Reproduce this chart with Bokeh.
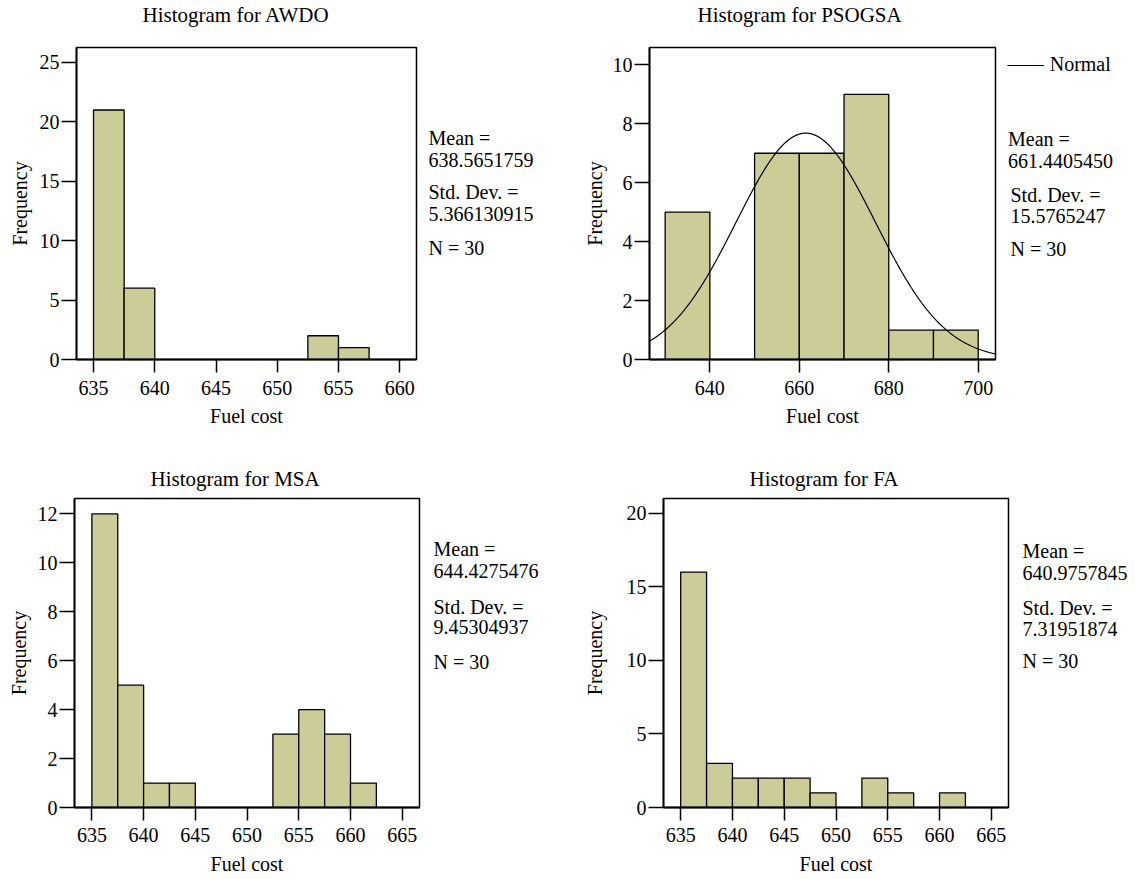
import math
from bokeh.plotting import figure
from bokeh.layouts import column, row
from bokeh.models import Range1d, Legend, LegendItem, FixedTicker, Title
from bokeh.core.properties import value
from bokeh.embed import file_html
from bokeh.resources import INLINE

# ---------------- data ----------------
BIN_W_SMALL = 2.5
BIN_W_PSO = 10.0

AWDO_LEFT = [635.0, 637.5, 652.5, 655.0]
AWDO_COUNT = [21, 6, 2, 1]
AWDO_STATS = ["Mean =", "638.5651759", "Std. Dev. =", "5.366130915", "N = 30"]

PSO_LEFT = [630.0, 650.0, 660.0, 670.0, 680.0, 690.0]
PSO_COUNT = [5, 7, 7, 9, 1, 1]
PSO_MEAN = 661.4405450
PSO_SD = 15.5765247
PSO_N = 30
PSO_STATS = ["Mean =", "661.4405450", "Std. Dev. =", "15.5765247", "N = 30"]

MSA_LEFT = [635.0, 637.5, 640.0, 642.5, 652.5, 655.0, 657.5, 660.0]
MSA_COUNT = [12, 5, 1, 1, 3, 4, 3, 1]
MSA_STATS = ["Mean =", "644.4275476", "Std. Dev. =", "9.45304937", "N = 30"]

FA_LEFT = [635.0, 637.5, 640.0, 642.5, 645.0, 647.5, 652.5, 655.0, 660.0]
FA_COUNT = [16, 3, 2, 2, 2, 1, 2, 1, 1]
FA_STATS = ["Mean =", "640.9757845", "Std. Dev. =", "7.31951874", "N = 30"]

AWDO_XTICKS = [635, 640, 645, 650, 655, 660]
AWDO_YTICKS = [0, 5, 10, 15, 20, 25]
PSO_XTICKS = [640, 660, 680, 700]
PSO_YTICKS = [0, 2, 4, 6, 8, 10]
MSA_XTICKS = [635, 640, 645, 650, 655, 660, 665]
MSA_YTICKS = [0, 2, 4, 6, 8, 10, 12]
FA_XTICKS = [635, 640, 645, 650, 655, 660, 665]
FA_YTICKS = [0, 5, 10, 15, 20]

FONT = "Liberation Serif"
FS = "20px"
TFS = "21px"
BAR = "#CCCC99"

ROW1_H, ROW1_TOP, ROW1_BOT = 440, 47, 81
ROW2_H, ROW2_TOP, ROW2_BOT = 439, 58, 72


def panel(title, lefts, counts, bw, xr, yr, xticks, yticks,
          width, height, bl, br, bt, bb, title_gap, title_offset,
          xlab_std, xax_std, ylab_std, yax_std):
    p = figure(width=width, height=height, x_range=Range1d(*xr), y_range=Range1d(*yr),
               output_backend="svg", toolbar_location=None, title=None,
               min_border_left=bl, min_border_right=br, min_border_top=bt,
               min_border_bottom=bb)
    p.background_fill_color = "white"
    p.border_fill_color = "white"
    p.grid.visible = False
    p.outline_line_color = "black"
    p.outline_line_width = 1.5
    p.outline_line_alpha = 1

    # spacer between frame and title, then the title itself
    p.add_layout(Title(text=" ", text_font_size="1px", standoff=title_gap), "above")
    p.add_layout(Title(text=title, text_font=FONT, text_font_size=TFS,
                       text_font_style="normal", text_color="black", align="left",
                       offset=title_offset, standoff=0), "above")

    rights = [l + bw for l in lefts]
    p.quad(left=lefts, right=rights, bottom=0, top=counts, fill_color=BAR,
           line_color="black", line_width=1.3)

    for ax in (p.xaxis[0], p.yaxis[0]):
        ax.axis_line_color = "black"
        ax.axis_line_width = 1.8
        ax.major_tick_line_color = "black"
        ax.major_tick_line_width = 1.5
        ax.major_tick_in = 0
        ax.minor_tick_line_color = None
        ax.major_label_text_font = FONT
        ax.major_label_text_font_size = FS
        ax.major_label_text_color = "black"
        ax.axis_label_text_font = FONT
        ax.axis_label_text_font_size = FS
        ax.axis_label_text_font_style = "normal"
        ax.axis_label_text_color = "black"
    p.xaxis[0].major_tick_out = 13
    p.yaxis[0].major_tick_out = 15
    p.xaxis[0].ticker = FixedTicker(ticks=xticks)
    p.yaxis[0].ticker = FixedTicker(ticks=yticks)
    p.xaxis[0].axis_label = "Fuel cost"
    p.yaxis[0].axis_label = "Frequency"
    p.xaxis[0].major_label_standoff = xlab_std
    p.xaxis[0].axis_label_standoff = xax_std
    p.yaxis[0].major_label_standoff = ylab_std
    p.yaxis[0].axis_label_standoff = yax_std
    return p


def stats_fig(width, height, bt, bb, xs, ys, texts):
    # y range in pixels measured from the top of the row
    s = figure(width=width, height=height, x_range=Range1d(0, width),
               y_range=Range1d(height - bb, bt), output_backend="svg",
               toolbar_location=None, x_axis_location=None, y_axis_location=None,
               min_border_left=0, min_border_right=0, min_border_top=bt,
               min_border_bottom=bb)
    s.grid.visible = False
    s.outline_line_color = None
    s.background_fill_color = "white"
    s.border_fill_color = "white"
    s.text(x=xs, y=ys, text=texts, text_font=value(FONT), text_font_size=value(FS),
           text_color="black", text_align="left", text_baseline="middle")
    return s


# top-left: AWDO
p1 = panel("Histogram for AWDO", AWDO_LEFT, AWDO_COUNT, BIN_W_SMALL,
           (633.61, 661.37), (0, 26.26), AWDO_XTICKS, AWDO_YTICKS,
           418, ROW1_H, 76, 2, ROW1_TOP, ROW1_BOT, 18, 66, 8, 7, 2, 6)
s1 = stats_fig(142, ROW1_H, ROW1_TOP, ROW1_BOT, [10] * 5,
               [137, 159, 191, 213, 247], AWDO_STATS)

# top-right: PSOGSA
p2 = panel("Histogram for PSOGSA", PSO_LEFT, PSO_COUNT, BIN_W_PSO,
           (626.5, 703.87), (0, 10.59), PSO_XTICKS, PSO_YTICKS,
           437, ROW1_H, 89, 2, ROW1_TOP, ROW1_BOT, 18, 48, 8, 7, 2, 4)
npts = 300
xs = [626.5 + (703.87 - 626.5) * i / (npts - 1) for i in range(npts)]
ys = [PSO_N * BIN_W_PSO / (PSO_SD * math.sqrt(2 * math.pi)) *
      math.exp(-0.5 * ((x - PSO_MEAN) / PSO_SD) ** 2) for x in xs]
p2.line(xs, ys, line_color="black", line_width=1.2)

s2 = stats_fig(138, ROW1_H, ROW1_TOP, ROW1_BOT, [10.5, 10.5, 13, 13, 13],
               [138, 160, 194, 215, 248], PSO_STATS)
# legend key renderer (draws nothing in the plot area itself)
key = s2.line(x=[float("nan")], y=[float("nan")], line_color="black", line_width=1.2)
leg = Legend(items=[LegendItem(label="Normal", renderers=[key])],
             location=(9.7, (ROW1_H - ROW1_BOT) - 76), padding=0, margin=0, spacing=0,
             glyph_width=37, glyph_height=20, label_height=20, label_standoff=6,
             label_text_font=FONT, label_text_font_size=FS, label_text_color="black",
             border_line_alpha=0, background_fill_alpha=0)
s2.add_layout(leg)

# bottom-left: MSA
p3 = panel("Histogram for MSA", MSA_LEFT, MSA_COUNT, BIN_W_SMALL,
           (633.32, 666.67), (0, 12.63), MSA_XTICKS, MSA_YTICKS,
           421, ROW2_H, 74, 2, ROW2_TOP, ROW2_BOT, 5, 76, 7, 8, 2, 5)
s3 = stats_fig(139, ROW2_H, ROW2_TOP, ROW2_BOT, [12] * 5,
               [108, 130, 166, 186, 221], MSA_STATS)

# bottom-right: FA
p4 = panel("Histogram for FA", FA_LEFT, FA_COUNT, BIN_W_SMALL,
           (633.34, 666.66), (0, 21.0), FA_XTICKS, FA_YTICKS,
           450, ROW2_H, 103, 2, ROW2_TOP, ROW2_BOT, 5, 86, 7, 8, 2, 18)
s4 = stats_fig(125, ROW2_H, ROW2_TOP, ROW2_BOT, [12] * 5,
               [110, 132, 167, 188, 220], FA_STATS)

layout = column(row(p1, s1, p2, s2), row(p3, s3, p4, s4))

with open("out.html", "w") as f:
    f.write(file_html(layout, INLINE))
